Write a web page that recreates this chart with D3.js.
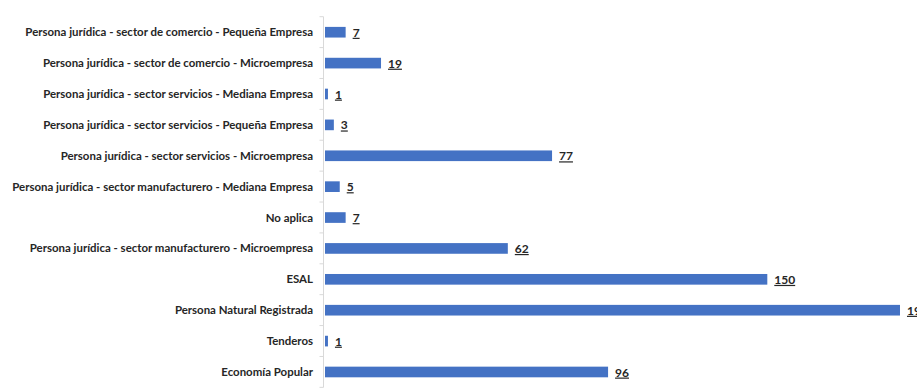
<!DOCTYPE html>
<html>
<head>
<meta charset="utf-8">
<script src="https://cdn.jsdelivr.net/npm/d3@7"></script>
<style>
  html, body { margin: 0; padding: 0; background: #fff; overflow: hidden; }
  svg { display: block; }
</style>
</head>
<body>
<svg id="chart" width="917" height="391"></svg>
<script>
// Categories, top to bottom
const categories = [
  "Persona jurídica - sector de comercio - Pequeña Empresa",
  "Persona jurídica - sector de comercio - Microempresa",
  "Persona jurídica - sector servicios - Mediana Empresa",
  "Persona jurídica - sector servicios - Pequeña Empresa",
  "Persona jurídica - sector servicios - Microempresa",
  "Persona jurídica - sector manufacturero - Mediana Empresa",
  "No aplica",
  "Persona jurídica - sector manufacturero - Microempresa",
  "ESAL",
  "Persona Natural Registrada",
  "Tenderos",
  "Economía Popular"
];
const counts = [7, 19, 1, 3, 77, 5, 7, 62, 150, 195, 1, 96];

const svg = d3.select("#chart");
const axisX = 323.5;
const barX0 = 325;

const x = d3.scaleLinear().domain([0, 150]).range([barX0, 767.3]);
const y = d3.scaleBand().domain(categories).range([16.7, 387.5]).paddingInner(0.655).paddingOuter(0.33);

// band boundaries for the category tick marks
const step = y.step();
const top0 = 16.7;
const ticks = d3.range(categories.length + 1).map(i => top0 + i * step);

const axisColor = "#d9d9d9";
svg.append("line")
  .attr("x1", axisX).attr("x2", axisX)
  .attr("y1", top0).attr("y2", top0 + categories.length * step)
  .attr("stroke", axisColor).attr("stroke-width", 1);
svg.selectAll("line.tick").data(ticks).enter().append("line")
  .attr("class", "tick")
  .attr("x1", axisX - 4).attr("x2", axisX)
  .attr("y1", d => d).attr("y2", d => d)
  .attr("stroke", axisColor).attr("stroke-width", 1);

const rows = categories.map((c, i) => ({ cat: c, v: counts[i] }));

// category labels
svg.selectAll("text.cat").data(rows).enter().append("text")
  .attr("class", "cat")
  .attr("x", 313)
  .attr("y", d => y(d.cat) + y.bandwidth() / 2)
  .attr("dy", "0.35em")
  .attr("text-anchor", "end")
  .attr("font-family", "Lato, 'Open Sans', sans-serif")
  .attr("font-weight", "bold")
  .attr("font-size", "11.45px")
  .attr("fill", "#262626")
  .text(d => d.cat);

// bars
svg.selectAll("rect.bar").data(rows).enter().append("rect")
  .attr("class", "bar")
  .attr("x", barX0)
  .attr("y", d => y(d.cat))
  .attr("width", d => x(d.v) - barX0)
  .attr("height", y.bandwidth())
  .attr("fill", "#4472c4");

// value labels, underlined
svg.selectAll("text.val").data(rows).enter().append("text")
  .attr("class", "val")
  .attr("x", d => x(d.v) + 7)
  .attr("y", d => y(d.cat) + y.bandwidth() / 2)
  .attr("dy", "0.38em")
  .attr("font-family", "Lato, 'Open Sans', sans-serif")
  .attr("font-weight", "bold")
  .attr("font-size", "12px")
  .attr("fill", "#262626")
  .attr("text-decoration", "underline")
  .text(d => d.v);
</script>
</body>
</html>
